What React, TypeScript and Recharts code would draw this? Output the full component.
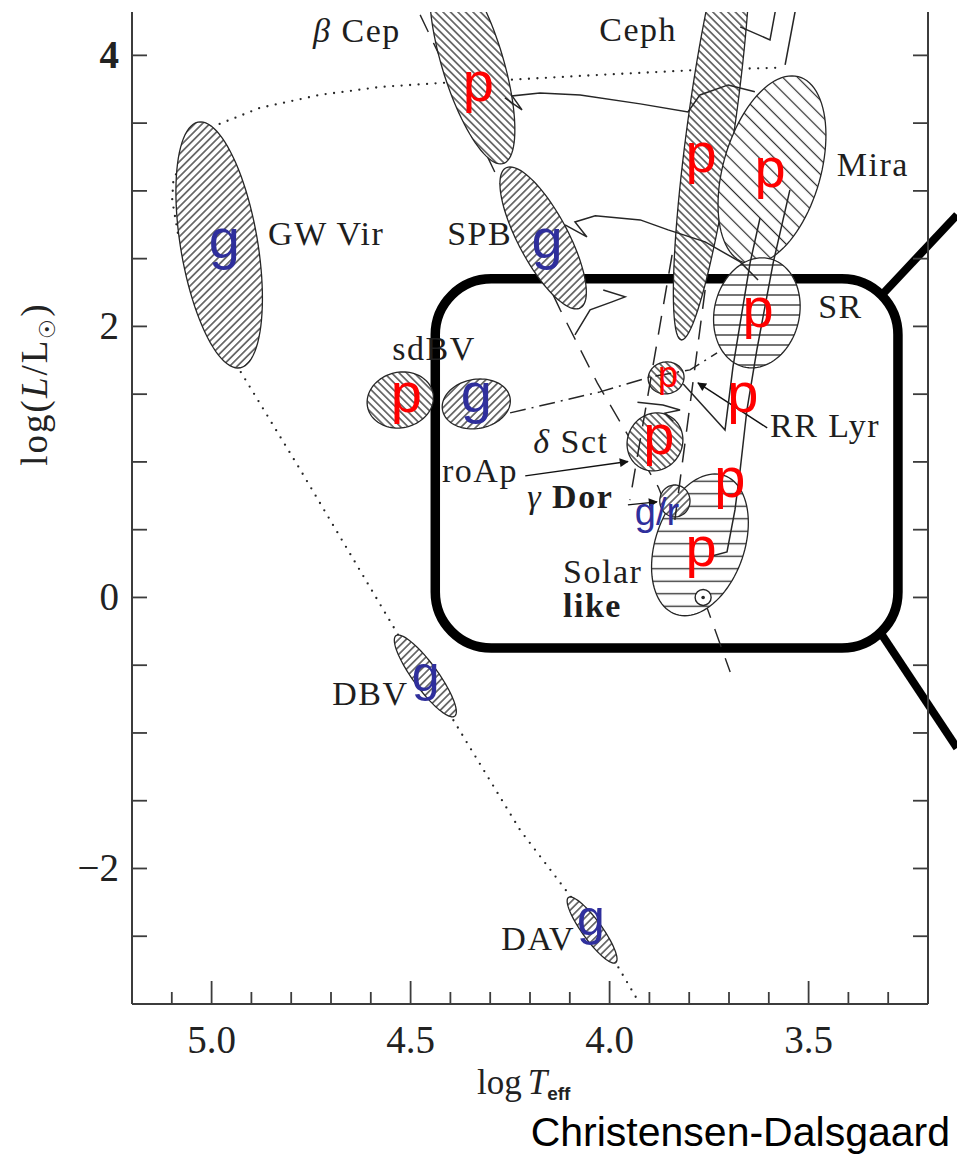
// PulsatorsHR — schematic HR diagram of pulsating stars (Christensen-Dalsgaard)
import React from 'react';
import {
  ComposedChart,
  Scatter,
  XAxis,
  YAxis,
  ReferenceArea,
  ReferenceLine,
} from 'recharts';

const X_TICKS = [5.1, 5.0, 4.9, 4.8, 4.7, 4.6, 4.5, 4.4, 4.3, 4.2, 4.1, 4.0, 3.9, 3.8, 3.7, 3.6, 3.5, 3.4, 3.3];
const X_LABELED = [5.0, 4.5, 4.0, 3.5];
const Y_TICKS = [-2.5, -2, -1.5, -1, -0.5, 0, 0.5, 1, 1.5, 2, 2.5, 3, 3.5, 4];
const Y_LABELED = [-2, 0, 2, 4];

// instability regions: centre, topmost point, horizontal half-width (log Teff)
const REGIONS = [
  { name: 'GW Vir', x: 4.981, y: 2.601, topX: 5.028, topY: 3.509, halfW: 0.098 },
  { name: 'beta Cep', x: 4.345, y: 3.952, topX: 4.416, topY: 4.705, halfW: 0.08 },
  { name: 'SPB', x: 4.167, y: 2.653, topX: 4.25, topY: 3.177, halfW: 0.07 },
  { name: 'Ceph', x: 3.743, y: 3.524, topX: 3.667, topY: 5.148, halfW: 0.06 },
  { name: 'Mira', x: 3.592, y: 3.155, topX: 3.542, topY: 3.849, halfW: 0.126 },
  { name: 'SR', x: 3.63, y: 2.1, topX: 3.617, topY: 2.506, halfW: 0.108 },
  { name: 'sdBV p', x: 4.526, y: 1.457, topX: 4.519, topY: 1.664, halfW: 0.083 },
  { name: 'sdBV g', x: 4.335, y: 1.428, topX: 4.325, topY: 1.612, halfW: 0.085 },
  { name: 'Solar-like', x: 3.773, y: 0.388, topX: 3.735, topY: 0.911, halfW: 0.1155 },
  { name: 'RR Lyr', x: 3.858, y: 1.62, topX: 3.856, topY: 1.738, halfW: 0.045 },
  { name: 'delta Sct', x: 3.886, y: 1.148, topX: 3.881, topY: 1.362, halfW: 0.07 },
  { name: 'gamma Dor', x: 3.836, y: 0.712, topX: 3.836, topY: 0.83, halfW: 0.038 },
  { name: 'DBV', x: 4.463, y: -0.579, topX: 4.531, topY: -0.277, halfW: 0.038 },
  { name: 'DAV', x: 4.044, y: -2.454, topX: 4.099, topY: -2.21, halfW: 0.03 },
];

const HATCH: Record<string, string> = {
  'GW Vir': 'hFwd',
  'beta Cep': 'hBack',
  SPB: 'hFwd',
  Ceph: 'hBack',
  Mira: 'hBackWide',
  SR: 'hHoriz',
  'sdBV p': 'hBack',
  'sdBV g': 'hFwd',
  'Solar-like': 'hHorizWide',
  'RR Lyr': 'hBack',
  'delta Sct': 'hBack',
  'gamma Dor': 'hFwd',
  DBV: 'hFwd',
  DAV: 'hFwd',
};

// white-dwarf / PG1159 cooling sequence (dotted)
const WD_TRACK = [
  { x: 3.584, y: 3.908 }, { x: 3.773, y: 3.893 }, { x: 4.024, y: 3.856 }, { x: 4.257, y: 3.819 },
  { x: 4.418, y: 3.797 }, { x: 4.576, y: 3.767 }, { x: 4.727, y: 3.709 }, { x: 4.878, y: 3.613 },
  { x: 4.986, y: 3.487 }, { x: 5.07, y: 3.25 }, { x: 5.096, y: 3.081 }, { x: 5.099, y: 2.933 },
  { x: 5.084, y: 2.675 }, { x: 4.933, y: 1.694 }, { x: 4.777, y: 0.941 }, { x: 4.531, y: -0.277 },
  { x: 4.396, y: -0.889 }, { x: 4.225, y: -1.716 }, { x: 4.097, y: -2.21 }, { x: 3.986, y: -2.69 },
  { x: 3.924, y: -2.999 },
];

// zero-age main sequence (dashed)
const ZAMS = [
  { x: 4.476, y: 4.299 }, { x: 4.315, y: 3.303 }, { x: 4.124, y: 2.122 }, { x: 4.031, y: 1.583 },
  { x: 3.878, y: 0.816 }, { x: 3.765, y: 0.004 }, { x: 3.697, y: -0.55 },
];

// classical instability strip edges (dashed)
const BLUE_EDGE = [{ x: 3.843, y: 2.528 }, { x: 3.949, y: 0.719 }];
const RED_EDGE = [{ x: 3.76, y: 2.269 }, { x: 3.836, y: 0.572 }];

// horizontal branch (dash-dot)
const HB = [
  { x: 4.25, y: 1.362 }, { x: 4.024, y: 1.517 }, { x: 3.898, y: 1.627 },
  { x: 3.798, y: 1.679 }, { x: 3.73, y: 1.804 },
];

// evolution tracks (solid)
const TRACK_HI = [
  { x: 4.263, y: 3.686 }, { x: 4.22, y: 3.598 }, { x: 4.245, y: 3.701 }, { x: 4.175, y: 3.723 },
  { x: 4.074, y: 3.708 }, { x: 3.923, y: 3.642 }, { x: 3.803, y: 3.583 }, { x: 3.773, y: 3.708 },
  { x: 3.702, y: 3.782 }, { x: 3.635, y: 3.731 },
];
const TRACK_MID = [
  { x: 4.112, y: 2.749 }, { x: 4.057, y: 2.66 }, { x: 4.087, y: 2.771 }, { x: 4.036, y: 2.816 },
  { x: 3.923, y: 2.786 }, { x: 3.853, y: 2.712 }, { x: 3.76, y: 2.624 }, { x: 3.672, y: 2.476 },
  { x: 3.627, y: 2.343 },
];
const TRACK_LOW = [
  { x: 4.016, y: 2.269 }, { x: 3.961, y: 2.218 }, { x: 3.994, y: 2.181 }, { x: 4.049, y: 2.122 },
  { x: 4.087, y: 1.937 },
];
const TRACK_DSCT = [
  { x: 3.93, y: 1.44 }, { x: 3.866, y: 1.42 }, { x: 3.823, y: 1.383 }, { x: 3.861, y: 1.36 },
  { x: 3.84, y: 1.3 },
];
const RGB_OUTER = [
  { x: 3.743, y: 0.306 }, { x: 3.705, y: 0.336 }, { x: 3.685, y: 0.646 }, { x: 3.672, y: 0.941 },
  { x: 3.655, y: 1.383 }, { x: 3.63, y: 1.826 }, { x: 3.589, y: 2.469 }, { x: 3.547, y: 3.007 },
];
const RGB_INNER = [
  { x: 3.815, y: 1.575 }, { x: 3.71, y: 1.236 }, { x: 3.69, y: 1.701 }, { x: 3.647, y: 2.469 },
  { x: 3.622, y: 2.8 },
];
const TOP_BITS_A = [{ x: 3.672, y: 4.21 }, { x: 3.597, y: 4.114 }, { x: 3.584, y: 4.321 }];
const TOP_BITS_B = [{ x: 3.534, y: 4.321 }, { x: 3.559, y: 3.93 }];

const SUN = [{ x: 3.765, y: 0.0 }];

// class names, baseline-left anchored
const CLASS_LABELS = [
  { text: 'β Cep', x: 4.745, y: 4.1 },
  { text: 'Ceph', x: 4.026, y: 4.107 },
  { text: 'Mira', x: 3.429, y: 3.111 },
  { text: 'GW Vir', x: 4.858, y: 2.601 },
  { text: 'SPB', x: 4.408, y: 2.601 },
  { text: 'SR', x: 3.476, y: 2.063 },
  { text: 'sdBV', x: 4.546, y: 1.753 },
  { text: 'RR Lyr', x: 3.597, y: 1.184 },
  { text: 'δ Sct', x: 4.192, y: 1.066 },
  { text: 'roAp', x: 4.421, y: 0.852 },
  { text: 'γ Dor', x: 4.207, y: 0.66 },
  { text: 'Solar', x: 4.117, y: 0.107 },
  { text: 'like', x: 4.117, y: -0.144 },
  { text: 'DBV', x: 4.697, y: -0.793 },
  { text: 'DAV', x: 4.272, y: -2.601 },
];
const BOLD_LABELS = ['like', 'Dor'];

// oscillation character: p modes / g modes
const MODE_LABELS = [
  { id: 'bcep', text: 'p', x: 4.33, y: 3.664 },
  { id: 'ceph', text: 'p', x: 3.77, y: 3.14 },
  { id: 'mira', text: 'p', x: 3.597, y: 3.03 },
  { id: 'sr', text: 'p', x: 3.627, y: 1.996 },
  { id: 'rgb', text: 'p', x: 3.665, y: 1.369 },
  { id: 'sg', text: 'p', x: 3.698, y: 0.742 },
  { id: 'solar', text: 'p', x: 3.77, y: 0.232 },
  { id: 'dsct', text: 'p', x: 3.876, y: 1.059 },
  { id: 'rrlyr', text: 'p', x: 3.853, y: 1.554 },
  { id: 'sdbvp', text: 'p', x: 4.511, y: 1.369 },
  { id: 'sdbvg', text: 'g', x: 4.335, y: 1.369 },
  { id: 'spb', text: 'g', x: 4.157, y: 2.506 },
  { id: 'gwvir', text: 'g', x: 4.968, y: 2.506 },
  { id: 'dbv', text: 'g', x: 4.462, y: -0.69 },
  { id: 'dav', text: 'g', x: 4.047, y: -2.491 },
  { id: 'gdor', text: 'g/r', x: 3.881, y: 0.535 },
];
const MODE_SIZE: Record<string, number> = { rrlyr: 36, gdor: 38, dbv: 50, dav: 50 };

const ARROWS = [
  { x1: 4.212, y1: 0.897, x2: 3.954, y2: 1.003 },
  { x1: 3.954, y1: 0.683, x2: 3.881, y2: 0.705 },
  { x1: 3.604, y1: 1.251, x2: 3.778, y2: 1.583 },
];
const LEADERS = [{ x1: 3.893, y1: 0.181, x2: 3.843, y2: 0.181 }];

// zoom box and its callout lines
const ZOOM_BOX = { x1: 4.438, x2: 3.2755, y1: -0.373, y2: 2.351 };
const CALLOUTS = [
  { x1: 3.316, y1: 2.232, x2: 3.127, y2: 2.823 },
  { x1: 3.321, y1: -0.253, x2: 3.127, y2: -1.111 },
];

const INK = '#262626';
const AXIS = '#3c3c3c';
const HATCH_INK = '#2a2a2a';
const SERIF = '"Liberation Serif", "DejaVu Serif", serif';
const SANS = '"Liberation Sans", Arial, sans-serif';

function ellipseOutline(r: (typeof REGIONS)[number]) {
  const pts: { x: number; y: number }[] = [];
  const n = 96;
  for (let i = 0; i <= n; i++) {
    const t = (2 * Math.PI * i) / n;
    pts.push({
      x: r.x + Math.cos(t) * (r.topX - r.x) + Math.sin(t) * r.halfW,
      y: r.y + Math.cos(t) * (r.topY - r.y),
    });
  }
  return pts;
}

const Nothing = () => <g />;

function XTick(props: any) {
  const { x, y, payload } = props;
  const v = payload.value as number;
  const major = X_LABELED.some((m) => Math.abs(m - v) < 1e-6);
  return (
    <g>
      <line x1={x} x2={x} y1={y} y2={y - (major ? 23 : 12)} stroke={AXIS} strokeWidth={1.8} />
      {major && (
        <text x={x} y={y + 49} textAnchor="middle" fontFamily={SERIF} fontSize={39} fill="#222">
          {v.toFixed(1)}
        </text>
      )}
    </g>
  );
}

function YTickLeft(props: any) {
  const { x, y, payload } = props;
  const v = payload.value as number;
  const labeled = Y_LABELED.includes(v);
  return (
    <g>
      <line x1={x} x2={x + 15} y1={y} y2={y} stroke={AXIS} strokeWidth={1.8} />
      {labeled && (
        <text
          x={x - 13}
          y={y + 13}
          textAnchor="end"
          fontFamily={SERIF}
          fontSize={39}
          fontWeight={v === 4 ? 700 : 400}
          fill="#222"
        >
          {v < 0 ? `−${Math.abs(v)}` : v}
        </text>
      )}
    </g>
  );
}

function YTickRight(props: any) {
  const { x, y } = props;
  return <line x1={x} x2={x - 15} y1={y} y2={y} stroke={AXIS} strokeWidth={1.8} />;
}

function ClassLabel(props: any) {
  const { cx, cy, payload } = props;
  const text = payload.text as string;
  const greek = /^[βδγ]/.test(text);
  const rest = greek ? text.slice(1) : text;
  const bold = BOLD_LABELS.some((b) => rest.includes(b));
  return (
    <text x={cx} y={cy} fontFamily={SERIF} fontSize={34} letterSpacing={1.5} fill="#1e1e1e">
      {greek && <tspan fontStyle="italic">{text[0]}</tspan>}
      {greek ? (
        <>
          <tspan>{'  '}</tspan>
          {rest.trim().split(' ').map((w, i) => (
            <tspan key={i} fontWeight={BOLD_LABELS.includes(w) ? 700 : 400}>
              {w}
            </tspan>
          ))}
        </>
      ) : (
        <tspan fontWeight={bold ? 700 : 400}>{rest}</tspan>
      )}
    </text>
  );
}

function ModeLabel(props: any) {
  const { cx, cy, payload } = props;
  const size = MODE_SIZE[payload.id] ?? 56;
  const color = payload.text === 'p' ? '#ff0000' : '#2f2f9c';
  return (
    <text x={cx} y={cy} textAnchor="middle" fontFamily={SANS} fontSize={size} fill={color}>
      {payload.text}
    </text>
  );
}

function SunSymbol(props: any) {
  const { cx, cy } = props;
  return (
    <g>
      <circle cx={cx} cy={cy} r={8} fill="#fff" stroke={INK} strokeWidth={1.4} />
      <circle cx={cx} cy={cy} r={1.8} fill={INK} />
    </g>
  );
}

function trackLine(data: { x: number; y: number }[], key: string, extra: Record<string, any>) {
  return (
    <Scatter
      key={key}
      data={data}
      line={{ stroke: INK, strokeWidth: 1.5, fill: 'none', ...extra }}
      lineType="joint"
      shape={Nothing}
      isAnimationActive={false}
    />
  );
}

function hatchPattern(id: string, gap: number, angle: number, w: number) {
  return (
    <pattern id={id} patternUnits="userSpaceOnUse" width={gap} height={gap} patternTransform={`rotate(${angle})`}>
      <rect width={gap} height={gap} fill="#fff" />
      <line x1={gap / 2} y1={0} x2={gap / 2} y2={gap} stroke={HATCH_INK} strokeWidth={w} />
    </pattern>
  );
}

export default function App() {
  return (
    <div style={{ position: 'absolute', left: 0, top: 0, width: 957, height: 1154, background: '#fff', overflow: 'hidden' }}>
      <svg width={0} height={0} style={{ position: 'absolute' }}>
        <defs>
          {hatchPattern('hFwd', 5.3, 45, 1.25)}
          {hatchPattern('hBack', 5.3, -45, 1.25)}
          {hatchPattern('hBackWide', 10.5, -45, 1.2)}
          {hatchPattern('hHoriz', 10, 90, 1.3)}
          {hatchPattern('hHorizWide', 12.5, 90, 1.3)}
          <marker id="arrowHead" viewBox="0 0 10 10" refX={9} refY={5} markerWidth={14} markerHeight={9} orient="auto" markerUnits="userSpaceOnUse">
            <path d="M0,0 L10,5 L0,10 z" fill="#111" />
          </marker>
        </defs>
      </svg>

      <ComposedChart width={957} height={1154} margin={{ top: 12, right: 0, bottom: 0, left: 0 }}>
        <XAxis
          type="number"
          dataKey="x"
          domain={[3.2, 5.2]}
          reversed
          allowDataOverflow
          ticks={X_TICKS}
          interval={0}
          height={150}
          tickSize={0}
          tickMargin={0}
          tickLine={false}
          axisLine={{ stroke: AXIS, strokeWidth: 2 }}
          tick={<XTick />}
        />
        <YAxis
          type="number"
          dataKey="y"
          domain={[-3, 4.32]}
          allowDataOverflow
          ticks={Y_TICKS}
          interval={0}
          width={132}
          tickSize={0}
          tickMargin={0}
          tickLine={false}
          axisLine={{ stroke: AXIS, strokeWidth: 2 }}
          tick={<YTickLeft />}
        />
        <YAxis
          yAxisId="r"
          orientation="right"
          type="number"
          dataKey="y"
          domain={[-3, 4.32]}
          allowDataOverflow
          ticks={Y_TICKS}
          interval={0}
          width={29}
          tickSize={0}
          tickMargin={0}
          tickLine={false}
          axisLine={{ stroke: AXIS, strokeWidth: 2 }}
          tick={<YTickRight />}
        />

        {trackLine(WD_TRACK, 'wd', { strokeWidth: 2.3, strokeDasharray: '0 8.5', strokeLinecap: 'round' })}
        {trackLine(ZAMS, 'zams', { strokeWidth: 1.4, strokeDasharray: '19 12' })}

        {REGIONS.map((r) => (
          <Scatter
            key={r.name}
            data={ellipseOutline(r)}
            line={{ stroke: INK, strokeWidth: 1.3, fill: `url(#${HATCH[r.name]})` }}
            lineType="joint"
            shape={Nothing}
            isAnimationActive={false}
          />
        ))}

        {trackLine(BLUE_EDGE, 'blue', { strokeDasharray: '19 12' })}
        {trackLine(RED_EDGE, 'red', { strokeDasharray: '19 12' })}
        {trackLine(HB, 'hb', { strokeDasharray: '16 6 2 6' })}
        {trackLine(TRACK_HI, 'thi', {})}
        {trackLine(TRACK_MID, 'tmid', {})}
        {trackLine(TRACK_LOW, 'tlow', {})}
        {trackLine(TRACK_DSCT, 'tdsct', {})}
        {trackLine(RGB_OUTER, 'rgbo', {})}
        {trackLine(RGB_INNER, 'rgbi', {})}
        {trackLine(TOP_BITS_A, 'topa', {})}
        {trackLine(TOP_BITS_B, 'topb', {})}

        <Scatter data={SUN} shape={<SunSymbol />} isAnimationActive={false} />

        {ARROWS.map((a, i) => (
          <ReferenceLine
            key={`a${i}`}
            segment={[{ x: a.x1, y: a.y1 }, { x: a.x2, y: a.y2 }]}
            ifOverflow="visible"
            shape={(p: any) => (
              <line x1={p.x1} y1={p.y1} x2={p.x2} y2={p.y2} stroke="#111" strokeWidth={1.4} markerEnd="url(#arrowHead)" />
            )}
          />
        ))}
        {LEADERS.map((a, i) => (
          <ReferenceLine
            key={`l${i}`}
            segment={[{ x: a.x1, y: a.y1 }, { x: a.x2, y: a.y2 }]}
            stroke="#111"
            strokeWidth={1.4}
            ifOverflow="visible"
          />
        ))}

        <Scatter data={CLASS_LABELS} shape={<ClassLabel />} isAnimationActive={false} />
        <Scatter data={MODE_LABELS} shape={<ModeLabel />} isAnimationActive={false} />

        <ReferenceArea
          x1={ZOOM_BOX.x1}
          x2={ZOOM_BOX.x2}
          y1={ZOOM_BOX.y1}
          y2={ZOOM_BOX.y2}
          ifOverflow="visible"
          shape={(p: any) => (
            <rect x={p.x} y={p.y} width={p.width} height={p.height} rx={56} ry={56} fill="none" stroke="#000" strokeWidth={9.5} />
          )}
        />
        {CALLOUTS.map((c, i) => (
          <ReferenceLine
            key={`c${i}`}
            segment={[{ x: c.x1, y: c.y1 }, { x: c.x2, y: c.y2 }]}
            stroke="#000"
            strokeWidth={8}
            ifOverflow="visible"
          />
        ))}
      </ComposedChart>

      <svg width={957} height={1154} style={{ position: 'absolute', left: 0, top: 0, pointerEvents: 'none' }}>
        <text transform="translate(47,384) rotate(-90)" textAnchor="middle" fontFamily={SERIF} fontSize={37} letterSpacing={2} fill="#222">
          log(<tspan fontStyle="italic">L</tspan>/L<tspan fontSize={22} dy={8}>☉</tspan><tspan dy={-8}>)</tspan>
        </text>
        <text x={477} y={1094} fontFamily={SERIF} fontSize={35} fill="#222">
          log<tspan fontStyle="italic" dx={6}>T</tspan>
          <tspan fontFamily={SANS} fontWeight={700} fontSize={19} dy={6}>eff</tspan>
        </text>
        <text x={950} y={1146} textAnchor="end" fontFamily={SANS} fontSize={41} fill="#000">
          Christensen-Dalsgaard
        </text>
      </svg>
    </div>
  );
}
